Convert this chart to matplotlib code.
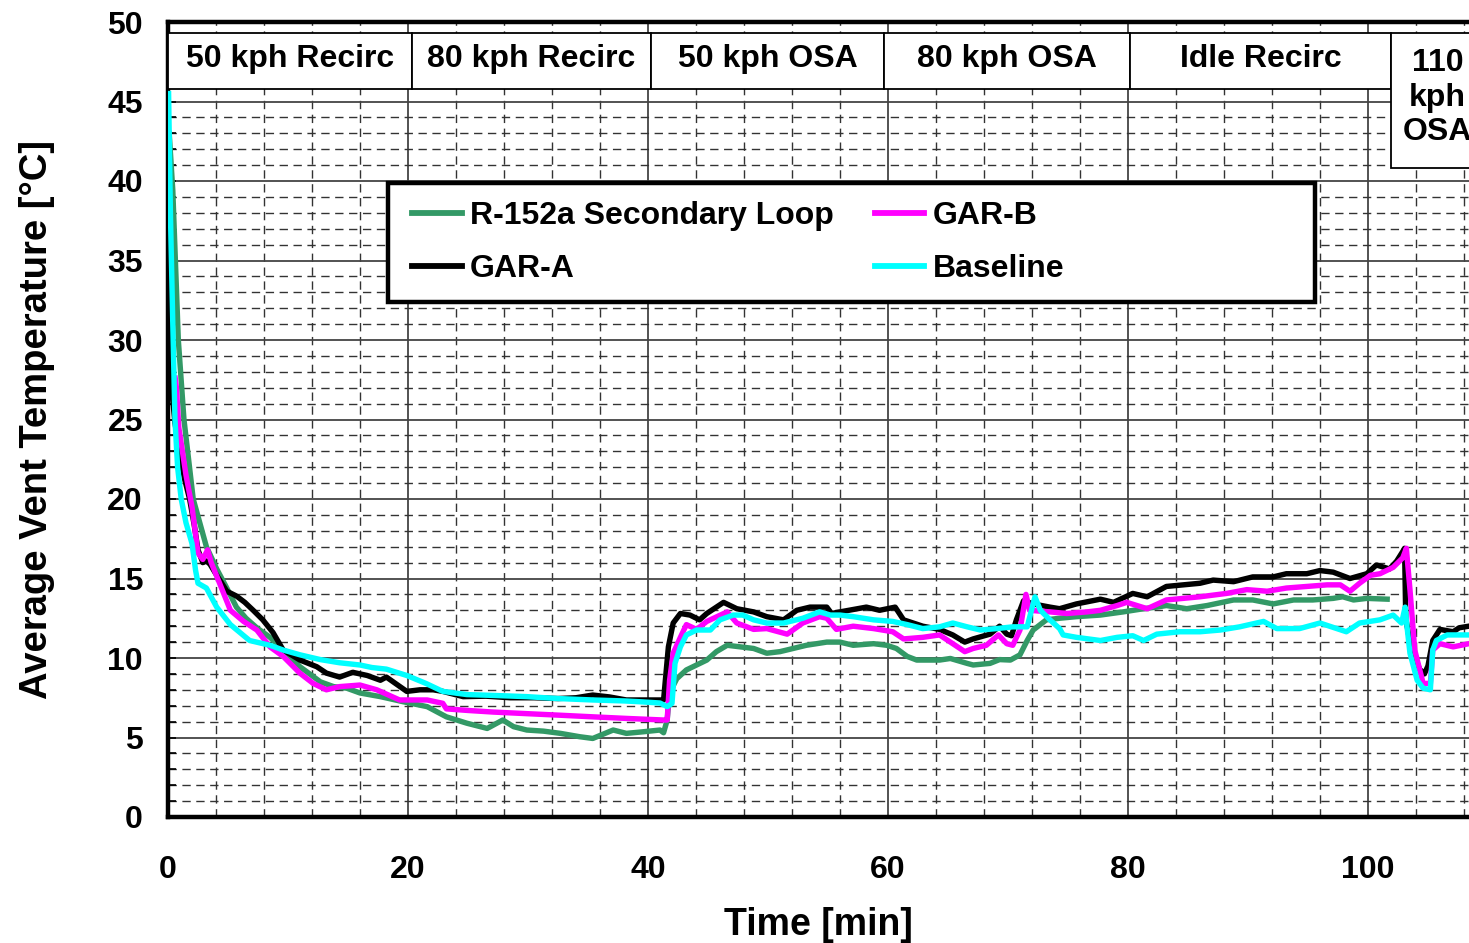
import matplotlib
matplotlib.use("Agg")
import matplotlib.pyplot as plt
from matplotlib.patches import Rectangle
from matplotlib.ticker import MultipleLocator

plt.rcParams['font.family'] = ['Liberation Sans', 'DejaVu Sans']
plt.rcParams['font.weight'] = 'bold'

# R-152a Secondary Loop
t_r152 = [0.1, 0.4, 0.86, 1.33, 2.1, 3.2, 4.06, 4.9, 5.7, 6.5, 7.4, 8.5, 9.9, 11.0, 12.7, 13.8,
          14.9, 16.0, 17.7, 19.6, 21.6, 23.2, 24.9, 26.6, 27.9, 28.8, 29.9, 31.3, 32.7, 34.3, 35.4,
          37.1, 38.2, 39.6, 41.0, 41.3, 41.6, 41.8, 42.4, 43.2, 44.05, 44.9, 45.7, 46.6, 47.7, 48.8,
          49.9, 51.0, 52.1, 53.2, 54.9, 56.0, 57.1, 58.8, 59.9, 60.7, 61.6, 62.4, 64.3, 65.2, 66.6,
          67.1, 68.5, 69.3, 70.2, 71.0, 71.6, 72.1, 73.2, 74.3, 75.7, 77.7, 79.6, 81.3, 82.4, 83.2,
          84.9, 86.6, 88.8, 90.4, 92.1, 93.8, 95.4, 97.1, 97.9, 98.8, 99.9, 101.6]
v_r152 = [43.0, 39.4, 30.0, 25.0, 20.0, 17.0, 15.6, 14.4, 13.2, 12.5, 11.9, 11.3, 10.3, 9.45, 8.5, 8.2,
          8.1, 7.8, 7.57, 7.25, 6.94, 6.3, 5.9, 5.57, 6.1, 5.68, 5.47, 5.4, 5.26, 5.05, 4.94,
          5.47, 5.26, 5.36, 5.47, 5.3, 6.1, 7.8, 8.7, 9.25, 9.56, 9.87, 10.4, 10.8, 10.7, 10.6,
          10.3, 10.4, 10.6, 10.8, 11.0, 11.0, 10.8, 10.9, 10.8, 10.6, 10.1, 9.87, 9.87, 9.97, 9.66,
          9.56, 9.66, 9.9, 9.87, 10.2, 11.1, 11.76, 12.4, 12.5, 12.6, 12.7, 12.9, 13.1, 13.2, 13.3,
          13.1, 13.3, 13.65, 13.65, 13.4, 13.65, 13.65, 13.75, 13.85, 13.65, 13.75, 13.7]

# GAR-A
t_gara = [0.1, 0.3, 0.58, 1.0, 1.4, 1.8, 2.2, 2.5, 2.9, 3.2, 3.5, 4.06, 4.9, 5.7, 6.4, 7.1, 7.9,
          8.75, 9.6, 11.0, 12.4, 13.2, 14.3, 15.4, 16.6, 17.7, 18.2, 19.9, 21.0, 22.1, 22.9, 24.6,
          26.5, 28.5, 30.5, 32.5, 34.0, 35.4, 36.8, 38.2, 41.0, 41.3, 41.7, 42.1, 42.7, 43.5, 44.3,
          44.9, 46.3, 47.4, 48.8, 49.9, 51.3, 52.4, 53.5, 54.9, 55.3, 56.0, 58.2, 59.3, 60.6, 61.3,
          62.9, 64.3, 65.4, 66.4, 67.1, 68.5, 69.3, 69.9, 70.3, 70.7, 71.3, 72.1, 73.5, 74.3, 75.7,
          77.7, 78.8, 80.4, 81.6, 83.2, 84.6, 86.0, 87.1, 88.8, 90.4, 92.1, 93.2, 94.9, 96.0, 97.1,
          98.5, 99.9, 100.7, 101.8, 102.4, 102.9, 103.05, 103.15, 103.5, 103.8, 104.3, 104.7, 105.0,
          105.4, 106.0, 107.1, 107.6, 108.4]
v_gara = [31.0, 27.0, 24.8, 22.7, 21.2, 20.0, 18.3, 16.8, 16.0, 16.1, 15.9, 15.2, 14.2, 13.9, 13.5, 13.0, 12.4,
          11.6, 10.5, 9.87, 9.45, 9.05, 8.8, 9.1, 8.9, 8.6, 8.8, 7.9, 8.0, 8.0, 7.9, 7.57,
          7.6, 7.5, 7.5, 7.45, 7.5, 7.67, 7.55, 7.36, 7.36, 7.36, 10.7, 12.2, 12.8, 12.7, 12.4,
          12.8, 13.5, 13.1, 12.9, 12.6, 12.4, 13.0, 13.2, 13.2, 12.8, 12.9, 13.2, 13.0, 13.2, 12.4,
          12.0, 11.8, 11.45, 11.0, 11.2, 11.5, 12.0, 11.5, 11.4, 12.4, 13.6, 13.4, 13.2, 13.1, 13.4,
          13.7, 13.5, 14.06, 13.85, 14.5, 14.6, 14.7, 14.9, 14.8, 15.1, 15.1, 15.3, 15.3, 15.5, 15.4,
          15.0, 15.3, 15.85, 15.6, 16.1, 16.7, 16.9, 12.5, 11.0, 10.3, 9.3, 9.0, 9.5,
          11.1, 11.8, 11.65, 11.9, 12.0]

# GAR-B
t_garb = [0.6, 0.7, 0.9, 1.1, 1.5, 2.0, 2.5, 2.9, 3.3, 3.6, 4.3, 5.2, 6.3, 7.4, 8.5, 9.6, 11.0,
          12.1, 13.2, 14.3, 16.0, 17.4, 19.3, 21.6, 22.9, 23.2, 25.0, 27.1, 29.9, 32.7, 35.4, 38.2,
          41.3, 41.6, 41.8, 42.1, 42.7, 43.2, 44.05, 44.9, 46.6, 47.4, 48.8, 49.9, 51.6, 52.9, 54.3,
          54.9, 55.7, 57.1, 58.8, 60.4, 61.3, 62.9, 64.3, 65.4, 66.4, 67.1, 68.2, 69.2, 69.9, 70.4,
          71.0, 71.5, 71.8, 73.5, 74.9, 76.6, 77.7, 79.1, 79.9, 81.6, 83.2, 84.6, 86.0, 88.2, 89.9,
          91.6, 93.2, 94.9, 96.6, 97.7, 98.5, 99.3, 100.2, 101.0, 102.1, 102.9, 103.2, 103.5, 103.9,
          104.6, 105.2, 105.4, 106.0, 107.1, 108.4]
v_garb = [27.6, 27.0, 24.5, 23.5, 21.5, 19.5, 16.6, 16.2, 16.8, 16.0, 14.7, 13.0, 12.3, 11.76, 10.7, 10.1, 9.04,
          8.4, 8.0, 8.2, 8.3, 8.0, 7.36, 7.36, 7.15, 6.8, 6.7, 6.6, 6.5, 6.4, 6.3, 6.2,
          6.1, 6.1, 8.6, 10.3, 11.3, 12.1, 11.8, 12.3, 12.9, 12.2, 11.8, 11.85, 11.5, 12.2, 12.6,
          12.5, 11.8, 12.0, 11.85, 11.65, 11.2, 11.3, 11.45, 10.9, 10.4, 10.6, 10.8, 11.45, 10.9, 10.8,
          11.76, 14.0, 13.0, 12.9, 12.8, 12.9, 13.0, 13.3, 13.5, 13.1, 13.65, 13.75, 13.85, 14.06, 14.3,
          14.2, 14.4, 14.5, 14.6, 14.6, 14.2, 14.7, 15.2, 15.3, 15.7, 16.3, 16.9, 14.3, 10.5,
          8.4, 8.4, 10.5, 10.9, 10.7, 10.9]

# Baseline
t_base = [0.05, 0.2, 0.4, 0.58, 0.8, 1.1, 1.5, 2.0, 2.3, 2.5, 3.2, 4.06, 5.2, 6.8, 8.5, 9.6, 11.0,
          12.7, 14.3, 16.0, 17.0, 18.2, 19.9, 21.5, 22.9, 24.9, 27.0, 29.9, 32.5, 35.4, 38.0, 39.3,
          41.0, 41.6, 42.0, 42.25, 42.7, 43.2, 44.05, 45.2, 46.0, 47.1, 47.9, 48.8, 49.9, 51.3, 52.9,
          54.3, 55.2, 56.0, 57.1, 58.8, 60.4, 61.6, 62.9, 64.3, 65.4, 66.6, 67.7, 69.06, 70.4, 71.6,
          72.25, 72.7, 73.5, 74.3, 74.6, 75.7, 77.7, 79.1, 80.4, 81.3, 82.4, 84.3, 86.0, 87.7, 89.3,
          91.3, 92.4, 94.3, 96.0, 98.2, 99.3, 101.0, 102.1, 102.8, 103.1, 103.25, 103.5, 104.1,
          104.6, 105.2, 105.4, 105.7, 106.6, 108.4]
v_base = [45.5, 38.0, 31.0, 25.0, 22.0, 20.0, 18.5, 17.2, 15.5, 14.7, 14.4, 13.2, 12.1, 11.1, 10.8, 10.5, 10.2,
          9.9, 9.7, 9.56, 9.4, 9.3, 8.9, 8.4, 7.9, 7.7, 7.65, 7.57, 7.45, 7.36, 7.3, 7.25,
          7.17, 6.94, 7.15, 9.66, 10.7, 11.45, 11.76, 11.76, 12.4, 12.7, 12.7, 12.4, 12.2, 12.2, 12.5,
          12.9, 12.7, 12.7, 12.6, 12.4, 12.3, 12.1, 11.85, 11.96, 12.2, 11.96, 11.76, 11.85, 11.96, 11.96,
          13.85, 13.0, 12.4, 11.85, 11.45, 11.3, 11.1, 11.3, 11.4, 11.1, 11.5, 11.65, 11.65, 11.76, 11.96,
          12.3, 11.85, 11.85, 12.2, 11.65, 12.2, 12.4, 12.7, 12.2, 13.2, 12.0, 10.3, 8.6,
          8.1, 8.0, 10.5, 11.1, 11.45, 11.45]

# test phases shown along the top of the plot
phase_names = ["50 kph Recirc", "80 kph Recirc", "50 kph OSA", "80 kph OSA", "Idle Recirc", "110\nkph\nOSA"]
phase_start = [0.0, 20.33, 40.25, 59.67, 80.17, 101.9]
phase_end = [20.33, 40.25, 59.67, 80.17, 101.9, 112.0]

fig = plt.figure(figsize=(14.69, 9.43), dpi=100)
ax = fig.add_axes([168 / 1469, 1 - 817 / 943, 1 - 168 / 1469, 795 / 943])

lw = 3.9
ax.plot(t_gara, v_gara, color='black', lw=lw, label='GAR-A', zorder=4)
ax.plot(t_r152, v_r152, color='#339966', lw=lw, label='R-152a Secondary Loop', zorder=3)
ax.plot(t_garb, v_garb, color='#FF00FF', lw=lw, label='GAR-B', zorder=5)
ax.plot(t_base, v_base, color='#00FFFF', lw=lw, label='Baseline', zorder=6)

ax.set_xlim(0, 108.42)
ax.set_ylim(0, 50)
ax.xaxis.set_major_locator(MultipleLocator(20))
ax.xaxis.set_minor_locator(MultipleLocator(4))
ax.yaxis.set_major_locator(MultipleLocator(5))
ax.yaxis.set_minor_locator(MultipleLocator(1))

ax.grid(which='major', color='#444444', lw=1.3, zorder=0)
ax.grid(which='minor', color='#333333', lw=1.0, linestyle=(0, (6, 4)), zorder=0)
ax.set_axisbelow(True)

ax.tick_params(axis='y', which='both', direction='in', length=6, width=1.2, pad=18, labelsize=23)
ax.tick_params(axis='x', which='both', direction='in', length=0, pad=27, labelsize=23)
for lab in ax.get_xticklabels() + ax.get_yticklabels():
    lab.set_fontweight('bold')

for side in ['left', 'top', 'bottom']:
    ax.spines[side].set_linewidth(3.2)
ax.spines['right'].set_visible(False)

ax.set_xlabel('Time [min]', fontsize=27, fontweight='bold', labelpad=16)
ax.set_ylabel('Average Vent Temperature [°C]', fontsize=27.5, fontweight='bold', labelpad=38)

# phase boxes
for name, x0, x1 in zip(phase_names, phase_start, phase_end):
    y0 = 40.8 if '\n' in name else 45.8
    ax.add_patch(Rectangle((x0, y0), x1 - x0, 49.3 - y0, facecolor='white', edgecolor='black',
                           lw=1.3, zorder=7, clip_on=x1 > 110))
    if '\n' in name:
        ax.text(x0 + 3.9, 45.25, name, ha='center', va='center', fontsize=23,
                fontweight='bold', linespacing=1.2, zorder=8)
    else:
        ax.text((x0 + x1) / 2, 47.7, name, ha='center', va='center', fontsize=23,
                fontweight='bold', zorder=8)

# legend frame drawn separately so it can be wider than its entries
ax.add_patch(Rectangle((0.169, 0.6478), 0.7126, 0.1497, transform=ax.transAxes,
                       facecolor='white', edgecolor='black', lw=3.2, zorder=9))
handles, labels = ax.get_legend_handles_labels()
order = [1, 0, 2, 3]
leg = ax.legend([handles[i] for i in order], [labels[i] for i in order], ncol=2,
                loc='upper left', bbox_to_anchor=(0.1876, 0.775), fontsize=23,
                frameon=False, borderpad=0, borderaxespad=0,
                handlelength=1.55, handletextpad=0.25, columnspacing=1.3,
                labelspacing=0.72)
leg.set_zorder(10)
for txt in leg.get_texts():
    txt.set_fontweight('bold')
for ln in leg.get_lines():
    ln.set_linewidth(4.2)

fig.savefig('out.png', dpi=100)
